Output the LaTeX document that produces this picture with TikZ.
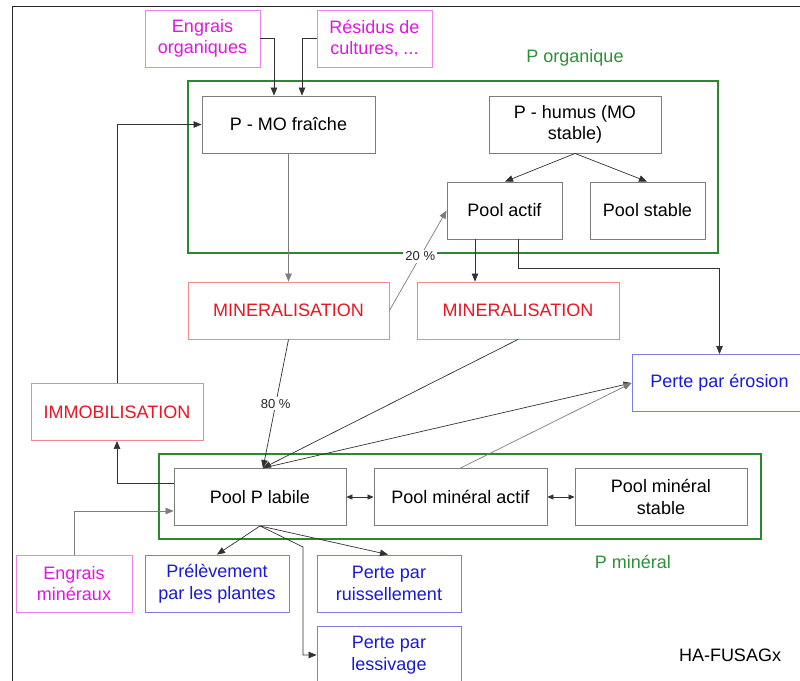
\documentclass[tikz,border=0pt]{standalone}
\usepackage{fontspec}
\setmainfont{Liberation Sans}
\usetikzlibrary{arrows.meta}
\definecolor{magText}{RGB}{228,20,228}
\definecolor{magBorder}{RGB}{240,130,240}
\definecolor{redText}{RGB}{235,20,35}
\definecolor{redBorder}{RGB}{242,135,140}
\definecolor{blueText}{RGB}{25,25,215}
\definecolor{blueBorder}{RGB}{125,125,230}
\definecolor{greenLine}{RGB}{45,135,45}
\definecolor{greenText}{RGB}{45,145,55}
\definecolor{grayBorder}{RGB}{125,125,125}
\definecolor{conn}{RGB}{50,50,50}
\tikzset{
  box/.style={rectangle, draw, line width=0.9pt, align=center, inner sep=2pt,
    font=\fontsize{18}{21.5}\selectfont, minimum height=57pt},
  graybox/.style={box, draw=grayBorder, text=black},
  magbox/.style={box, draw=magBorder, text=magText},
  redbox/.style={box, draw=redBorder, text=redText},
  bluebox/.style={box, draw=blueBorder, text=blueText},
  group/.style={draw=greenLine, line width=1.4pt},
  grouplabel/.style={text=greenText, font=\fontsize{18}{21.5}\selectfont},
  arr/.style={draw=conn, line width=0.7pt, -{Triangle[length=8pt,width=6.5pt]}},
  darr/.style={draw=conn, line width=0.7pt, {Triangle[length=6pt,width=5pt]}-{Triangle[length=6pt,width=5pt]}},
  pct/.style={font=\fontsize{13}{15}\selectfont, fill=white, inner sep=2pt, text=black!85}
}
\begin{document}
\begin{tikzpicture}[x=1pt,y=-1pt]
\useasboundingbox (0,0) rectangle (800,680);
\fill[white] (0,0) rectangle (800,680);
% outer frame
\draw[line width=0.9pt, black!85] (12,690) -- (12,6) -- (810,6);

% group frames
\draw[group] (188,81) rectangle (718,253);
\node[grouplabel] (porg) at (575,58) {P organique};
\draw[group] (159,454) rectangle (761,539);
\node[grouplabel] (pmin) at (633,562) {P minéral};

% top inputs
\node[magbox, minimum width=115pt] (eo) at (202.5,38.5) {Engrais\\organiques};
\node[magbox, minimum width=115pt] (res) at (374.5,38.5) {Résidus de\\cultures, ...};

% organic pools
\node[graybox, minimum width=173pt] (pmo) at (288.5,124.5) {P - MO fraîche};
\node[graybox, minimum width=172pt] (hum) at (575,124.5) {P - humus (MO\\stable)};
\node[graybox, minimum width=115pt] (pa) at (504.5,210.5) {Pool actif};
\node[graybox, minimum width=115pt] (ps) at (647.5,210.5) {Pool stable};

% processes
\node[redbox, minimum width=201pt] (min1) at (288.5,310.5) {MINERALISATION};
\node[redbox, minimum width=202pt] (min2) at (518,310.5) {MINERALISATION};
\node[redbox, minimum width=172pt] (imm) at (117,412) {IMMOBILISATION};
\node[bluebox, minimum width=175pt] (ero) at (719.5,383) {Perte par érosion};

% mineral pools
\node[graybox, minimum width=172pt] (lab) at (260,497) {Pool P labile};
\node[graybox, minimum width=173pt] (pma) at (460.5,497) {Pool minéral actif};
\node[graybox, minimum width=172pt] (pms) at (661,497) {Pool minéral\\stable};

% bottom
\node[magbox, minimum width=116pt] (em) at (74,583.5) {Engrais\\minéraux};
\node[bluebox, minimum width=144pt] (pre) at (217,583.5) {Prélèvement\\par les plantes};
\node[bluebox, minimum width=144pt] (rui) at (389,583.5) {Perte par\\ruissellement};
\node[bluebox, minimum width=144pt] (les) at (389,655) {Perte par\\lessivage};
\node[font=\fontsize{18}{21.5}\selectfont] (ha) at (730,655) {HA-FUSAGx};

% connectors
\draw[arr] (eo.east) -| ([xshift=-14.5]pmo.north);
\draw[arr] (res.west) -| ([xshift=13.5]pmo.north);
\draw[arr] (hum.south) -- ([xshift=0.5]pa.north);
\draw[arr] (hum.south) -- ([xshift=-0.5]ps.north);
\draw[arr, draw=grayBorder] (pmo.south) -- (min1.north);
\draw[arr, draw=grayBorder] (min1.east) -- node[pct, pos=0.54] {20 \%} (pa.west);
\draw[arr] ([xshift=-29.5]pa.south) -- ([xshift=-29.5]pa.south |- min2.north);
\draw[arr] ([xshift=13.5]pa.south) -- ++(0,29) -| (ero.north);
\coordinate (labin) at ([xshift=3]lab.north);
\draw[arr] (min1.south) -- node[pct, pos=0.5] {80 \%} (labin);
\draw[arr] (min2.south) -- (labin);
\draw[arr] (labin) -- (ero.west);
\draw[arr, draw=grayBorder] (pma.north) -- (ero.west);
\draw[darr] (lab.east) -- (pma.west);
\draw[darr] (pma.east) -- (pms.west);
\draw[arr] ([yshift=14]lab.west) -| (imm.south);
\draw[arr] (imm.north) |- (pmo.west);
\draw[arr, draw=grayBorder] (em.north) |- ([yshift=-14]lab.west);
\draw[arr] (lab.south) -- (pre.north);
\draw[arr] (lab.south) -- ([xshift=-1]rui.north);
\coordinate (lbend) at (303,547);
\draw[arr] (lab.south) -- (lbend) |- (les.west);
\end{tikzpicture}
\end{document}
